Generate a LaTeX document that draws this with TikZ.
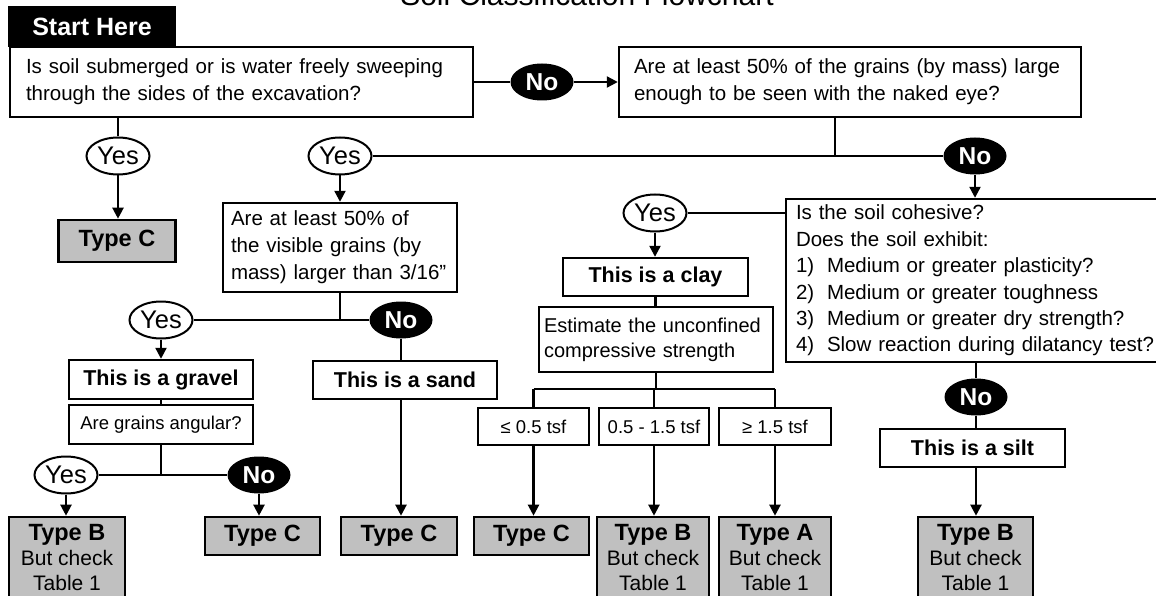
\documentclass[tikz,border=0pt]{standalone}
\usepackage{fontspec}
\setmainfont{Liberation Sans}
\usetikzlibrary{shapes.geometric,arrows.meta}

\definecolor{typegray}{RGB}{192,192,192}
\newcommand{\qtxt}{\fontsize{20.5}{27}\selectfont}
\newcommand{\btxt}{\bfseries\fontsize{21.5}{26}\selectfont}
\newcommand{\ttxt}{\bfseries\fontsize{23.5}{25}\selectfont}
\newcommand{\stxt}{\fontsize{18.5}{22}\selectfont}

\begin{document}
\begin{tikzpicture}[x=1pt, y=-1pt,
  qbox/.style={draw, line width=2.4pt, fill=white, font=\qtxt, align=left, inner ysep=0pt},
  cbox/.style={draw, line width=2.4pt, fill=white, align=center, inner sep=0pt},
  typebox/.style={draw, line width=2.6pt, fill=typegray, align=center, inner sep=0pt, font=\fontsize{21}{25}\selectfont},
  yes/.style={ellipse, draw, line width=2pt, fill=white, inner sep=0pt, minimum width=63pt, minimum height=37pt, font=\fontsize{25.5}{25}\selectfont},
  no/.style={ellipse, fill=black, text=white, inner sep=0pt, minimum width=63pt, minimum height=37pt, font=\bfseries\fontsize{24.5}{24}\selectfont},
  line/.style={line width=2.2pt},
  arr/.style={line width=2.2pt, -{Triangle[width=11pt,length=11pt]}}]
\useasboundingbox (0,0) rectangle (1156,596);
\clip (0,0) rectangle (1156,596);

\node [anchor=base, font=\fontsize{30}{30}\selectfont] (title) at (587,6) {Soil Classification Flowchart};
\node [fill=black, text=white, font=\bfseries\fontsize{25}{25}\selectfont, minimum width=168pt, minimum height=41pt] (start) at (92,26.5) {Start Here};
\node [qbox, text width=431pt, inner xsep=16pt, minimum height=70pt] (submerged) at (241.5,82) {Is soil submerged or is water freely sweeping\\through the sides of the excavation?};
\node [qbox, text width=432pt, inner xsep=15pt, minimum height=70pt] (visible) at (850,82) {Are at least 50\% of the grains (by mass) large\\enough to be seen with the naked eye?};
\node [no] (no1) at (542,82) {No};
\node [yes] (yes1) at (118,156) {Yes};
\node [yes] (yes2) at (340,156) {Yes};
\node [no] (no2) at (975,156) {No};
\node [typebox, font=\ttxt, minimum width=117pt, minimum height=42pt] (typec1) at (117,241) {Type C};
\node [qbox, text width=218pt, inner xsep=8pt, minimum height=89pt] (coarse) at (340,247.5) {Are at least 50\% of\\the visible grains (by\\mass) larger than 3/16"};
\node [yes] (yes3) at (655,213) {Yes};
\node [qbox, text width=364pt, inner xsep=10pt, minimum height=163pt, font=\fontsize{20.5}{26.4}\selectfont] (cohesive) at (978,280.5) {Is the soil cohesive?\\Does the soil exhibit:\\\makebox[31pt][l]{1)}Medium or greater plasticity?\\\makebox[31pt][l]{2)}Medium or greater toughness\\\makebox[31pt][l]{3)}Medium or greater dry strength?\\\makebox[31pt][l]{4)}Slow reaction during dilatancy test?};
\node [cbox, font=\btxt, minimum width=185pt, minimum height=38pt] (clay) at (655.5,277) {This is a clay};
\node [qbox, text width=224pt, inner xsep=5pt, minimum height=65pt, font=\fontsize{20}{25}\selectfont] (estimate) at (656,339.5) {Estimate the unconfined\\compressive strength};
\node [yes] (yes4) at (161,320) {Yes};
\node [no] (no4) at (401,320) {No};
\node [cbox, font=\btxt, minimum width=184pt, minimum height=39pt] (gravel) at (161,379.5) {This is a gravel};
\node [cbox, font=\stxt, minimum width=184pt, minimum height=39pt] (angular) at (161,424.5) {Are grains angular?};
\node [cbox, font=\btxt, minimum width=184pt, minimum height=38pt] (sand) at (405,380) {This is a sand};
\node [cbox, font=\stxt, minimum width=111pt, minimum height=37pt] (low) at (533.5,426.5) {≤ 0.5 tsf};
\node [cbox, font=\stxt, minimum width=110pt, minimum height=37pt] (mid) at (654,426.5) {0.5 - 1.5 tsf};
\node [cbox, font=\stxt, minimum width=112pt, minimum height=37pt] (high) at (775,426.5) {≥ 1.5 tsf};
\node [no] (no6) at (976,397) {No};
\node [cbox, font=\btxt, minimum width=185pt, minimum height=38pt] (silt) at (972.5,448) {This is a silt};
\node [yes] (yes5) at (66,475) {Yes};
\node [no] (no5) at (259,475) {No};
\node [typebox, minimum width=116pt, minimum height=82pt] (typeb1) at (67,558) {{\ttxt Type B}\\But check\\Table 1};
\node [typebox, font=\ttxt, minimum width=115pt, minimum height=38pt] (typec2) at (262.5,536) {Type C};
\node [typebox, font=\ttxt, minimum width=116pt, minimum height=38pt] (typec3) at (399,536) {Type C};
\node [typebox, font=\ttxt, minimum width=115pt, minimum height=38pt] (typec4) at (531.5,536) {Type C};
\node [typebox, minimum width=112pt, minimum height=82pt] (typeb2) at (653,558) {{\ttxt Type B}\\But check\\Table 1};
\node [typebox, minimum width=112pt, minimum height=82pt] (typea) at (775,558) {{\ttxt Type A}\\But check\\Table 1};
\node [typebox, minimum width=115pt, minimum height=82pt] (typeb3) at (975.5,558) {{\ttxt Type B}\\But check\\Table 1};
\coordinate (split) at (656,389);

\draw [line] (submerged) -- (no1);
\draw [arr] (no1) -- (visible);
\draw [line] (yes1) -- (yes1 |- submerged.south);
\draw [arr] (yes1) -- (yes1 |- typec1.north);
\draw [line] ([xshift=-15pt]visible.south) -- ([xshift=-15pt]visible.south |- yes2);
\draw [line] (yes2) -- (no2);
\draw [arr] (yes2) -- (coarse);
\draw [arr] (no2) -- (no2 |- cohesive.north);
\draw [line] (yes3) -- (yes3 -| cohesive.west);
\draw [arr] (yes3) -- (yes3 |- clay.north);
\draw [line] (clay) -- (clay |- estimate.north);
\draw [line] (estimate) -- (split);
\draw [line] (low |- split) -- (high |- split);
\draw [line] (low |- split) -- (low);
\draw [line] (mid |- split) -- (mid);
\draw [line] (high |- split) -- (high);
\draw [arr] (low) -- (low |- typec4.north);
\draw [arr] (mid) -- (mid |- typeb2.north);
\draw [arr] (high) -- (high |- typea.north);
\draw [line] (coarse) -- (coarse |- yes4);
\draw [line] (yes4) -- (no4);
\draw [arr] (yes4) -- (gravel);
\draw [line] (gravel) -- (angular);
\draw [line] (no4) -- (no4 |- sand.north);
\draw [arr] (no4 |- sand.south) -- (no4 |- typec3.north);
\draw [line] (angular) -- (angular |- yes5);
\draw [line] (yes5) -- (no5);
\draw [arr] (yes5) -- (yes5 |- typeb1.north);
\draw [arr] (no5) -- (no5 |- typec2.north);
\draw [line] (no6 |- cohesive.south) -- (no6);
\draw [line] (no6) -- (no6 |- silt.north);
\draw [arr] (no6 |- silt.south) -- (no6 |- typeb3.north);
\end{tikzpicture}
\end{document}
